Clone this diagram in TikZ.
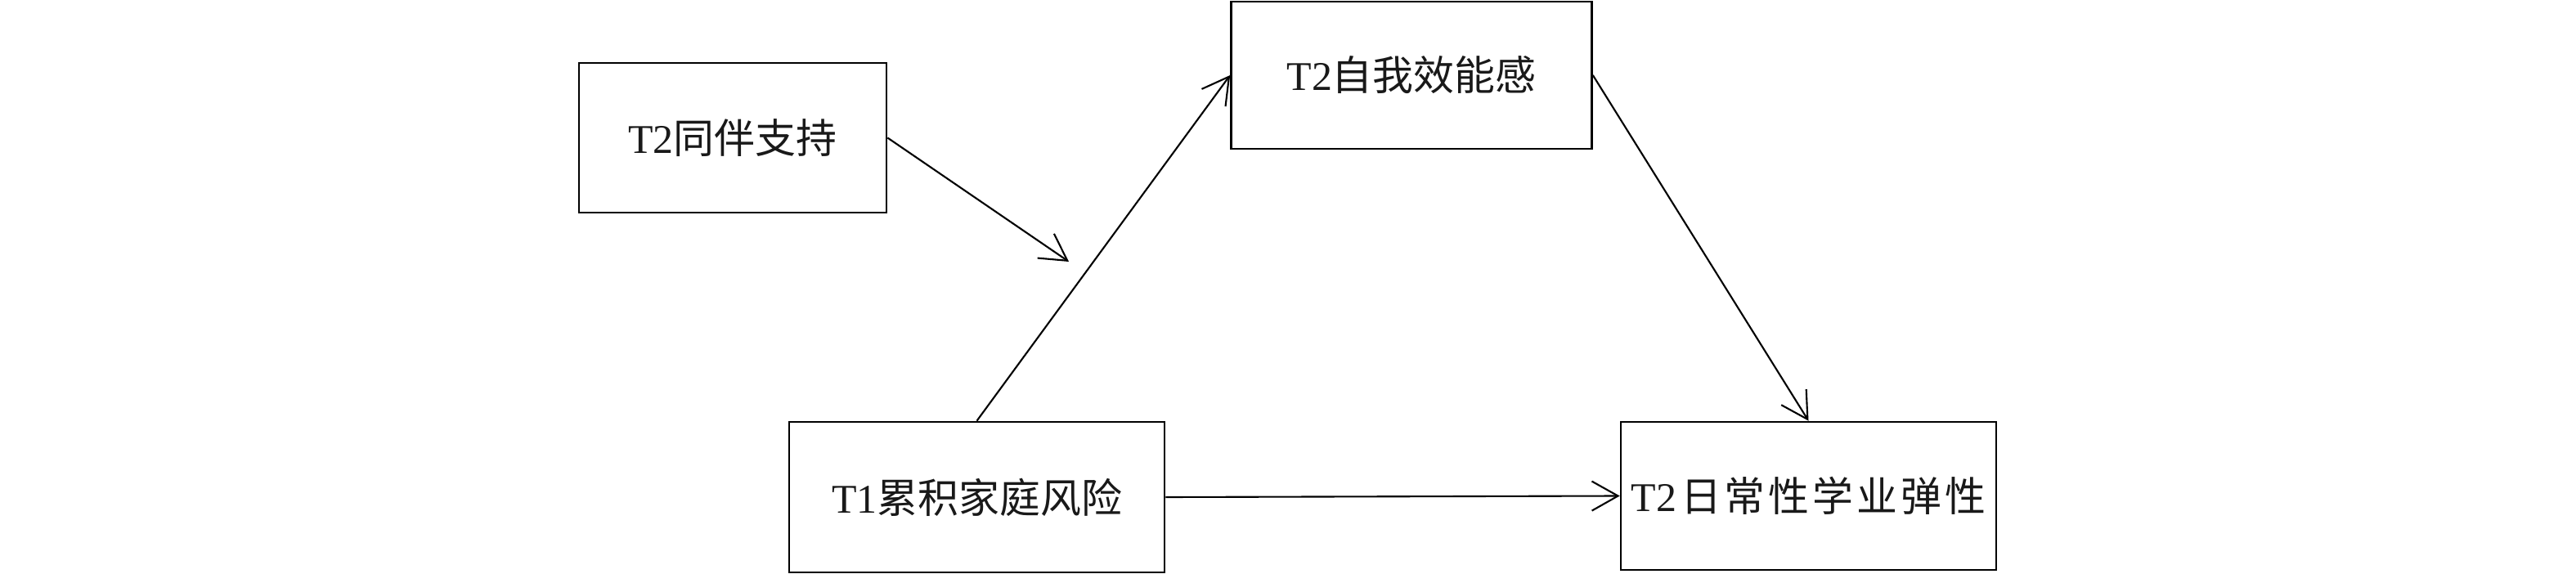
\documentclass[tikz,border=0pt]{standalone}
\usepackage{fontspec}
\setmainfont{Liberation Serif}
\newfontfamily\cjk{Noto Sans CJK SC}
\newfontfamily\cjkwide[LetterSpace=8]{Noto Sans CJK SC}
\usetikzlibrary{arrows.meta}
\begin{document}
\begin{tikzpicture}[
  box/.style={draw, line width=0.75pt, rectangle, inner sep=0pt, text=black!90,
              font=\fontsize{14.2}{17}\selectfont},
  link/.style={line width=0.6pt, -{Straight Barb[length=0.32cm,width=0.36cm,line width=0.6pt]}}
]
\useasboundingbox (0,0) rectangle (31.5,-7.02);
\node[box, minimum width=3.76cm, minimum height=1.83cm] (peer) at (8.96,-1.685) {T2{\cjk 同伴支持}};
\node[box, minimum width=4.41cm, minimum height=1.80cm] (eff) at (17.26,-0.92) {T2{\cjk 自我效能感}};
\node[box, minimum width=4.59cm, minimum height=1.84cm] (risk) at (11.945,-6.08) {T1{\cjk 累积家庭风险}};
\node[box, minimum width=4.59cm, minimum height=1.81cm] (res) at (22.115,-6.065) {T2\hspace{0.05cm}{\cjkwide 日常性学业弹性}};
\coordinate (mod) at (13.07,-3.20);
\draw[link] (risk.north) -- (eff.west);
\draw[link] (eff.east) -- (res.north);
\draw[link] (risk.east) -- (res.west);
\draw[link] (peer.east) -- (mod);
\end{tikzpicture}
\end{document}
